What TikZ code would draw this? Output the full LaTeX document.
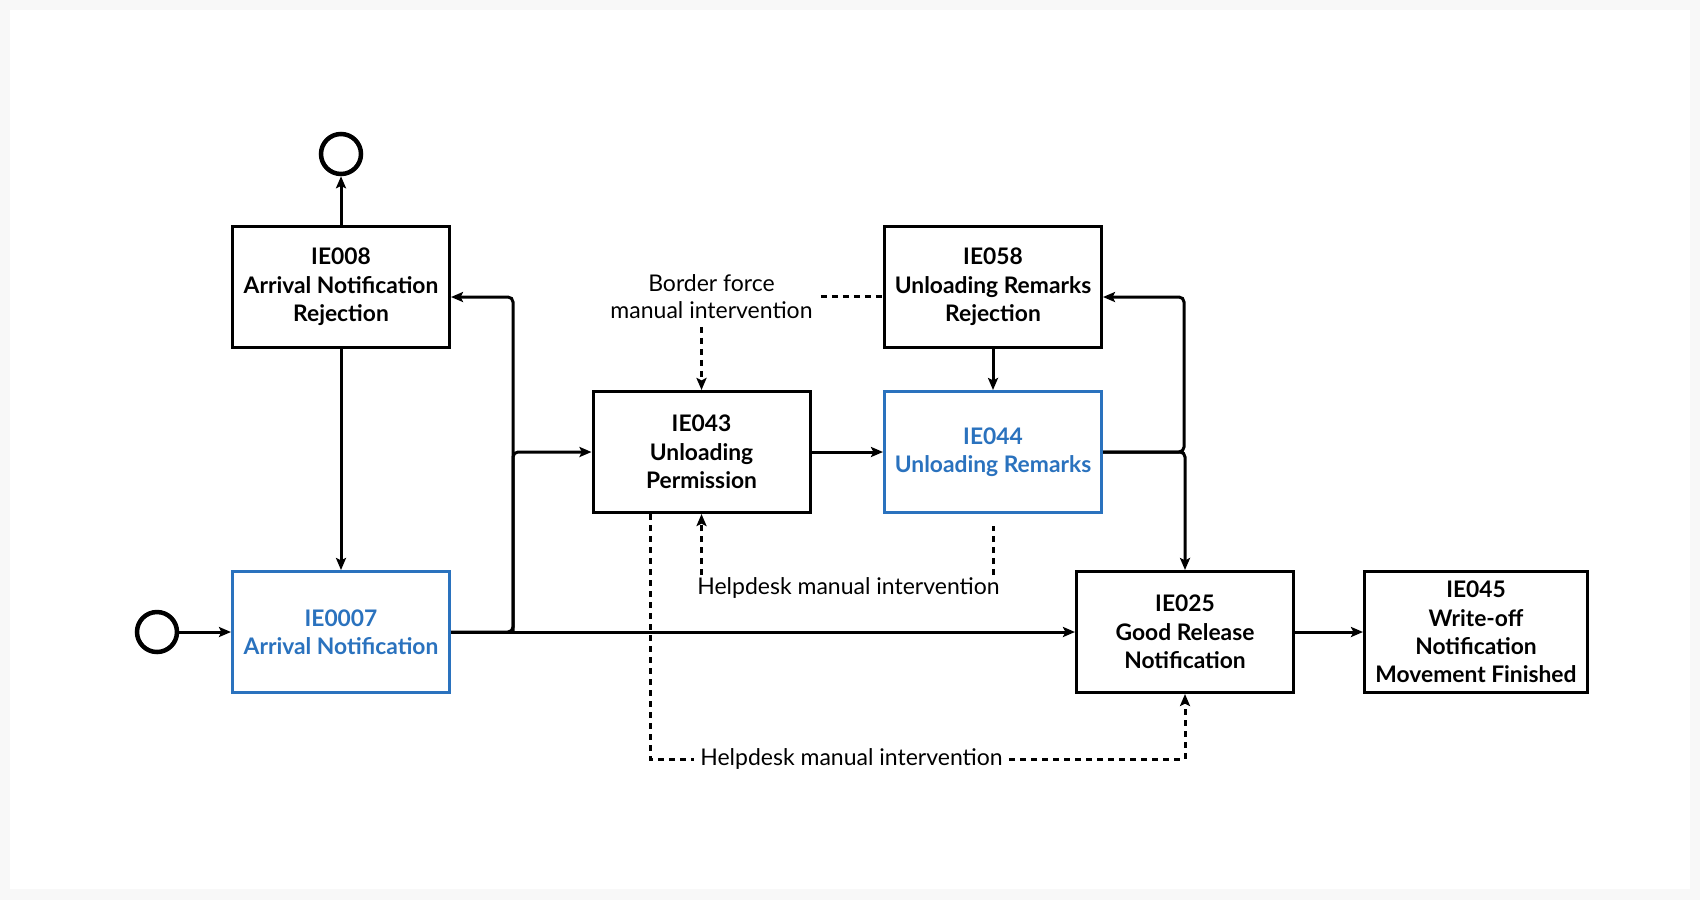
\documentclass[tikz,border=0pt]{standalone}
\usepackage{fontspec}
\setmainfont{Lato}
\usetikzlibrary{arrows.meta,positioning}
\definecolor{msgblue}{HTML}{2A72BE}
\definecolor{pagegray}{HTML}{F8F8F8}
\tikzstyle{every node}+=[inner sep=1pt,font=\fontsize{11.5}{13.5}\selectfont]
\tikzstyle{msg}=[rectangle,draw,line width=1.5pt,minimum width=108.5pt,minimum height=60.5pt,align=center,font=\fontsize{11.4}{14.15}\selectfont\bfseries]
\tikzstyle{ev}=[circle,draw,line width=2.25pt,minimum size=20pt,inner sep=0pt]
\tikzstyle{flow}=[line width=1.5pt,-{Stealth[length=6pt,width=5pt,inset=1.2pt]}]
\tikzstyle{manual}=[line width=1.5pt,dash pattern=on 3pt off 2.5pt]
\tikzstyle{lbl}=[align=center]

\begin{document}
\begin{tikzpicture}[x=0.5pt,y=-0.5pt]

\fill[pagegray] (0,0) rectangle (1700,900);
\fill[white] (10,10) rectangle (1690,889);

% messages
\node[msg] (ie008) at (341,287) {IE008\\Arrival Notification\\Rejection};
\node[msg,msgblue,below of=ie008,node distance=172.5pt] (ie0007) {IE0007\\Arrival Notification};
\node[ev,above of=ie008,node distance=66.5pt] (finish) {};
\node[ev,left of=ie0007,node distance=92pt] (start) {};

\node[msg] (ie043) at (701.5,452) {IE043\\Unloading\\Permission};
\node[msg,msgblue,right of=ie043,node distance=145.75pt] (ie044) {IE044\\Unloading Remarks};
\node[msg,above of=ie044,node distance=82.5pt] (ie058) {IE058\\Unloading Remarks\\Rejection};

\node[msg] (ie025) at (1185,632) {IE025\\Good Release\\Notification};
\node[msg,minimum width=111.5pt,right of=ie025,node distance=145.5pt] (ie045) {IE045\\Write-off\\Notification\\Movement Finished};

% manual interventions
\node[lbl] (border) at (711.5,296.5) {Border force\\manual intervention};
\node (helpmid) at (848.5,588) {Helpdesk manual intervention};
\node[inner sep=3pt] (helplow) at (851.5,759) {Helpdesk manual intervention};

\coordinate (splitL) at (513,632);
\coordinate (splitR) at (1184,452);

\draw[flow] (start) -- (ie0007);
\draw[flow] (ie008) -- (finish);
\draw[flow] (ie008) -- (ie0007);
\draw[flow] (ie0007.east) -- (ie025.west);
\draw[flow,rounded corners=2.5pt] (ie0007.east) -- (splitL) |- ([yshift=-5pt]ie008.east);
\draw[flow,rounded corners=2.5pt] (splitL) |- (ie043.west);
\draw[flow] (ie043) -- (ie044);
\draw[flow] (ie058) -- (ie044);
\draw[flow,rounded corners=2.5pt] (ie044.east) -- (splitR) |- ([yshift=-5pt]ie058.east);
\draw[flow,rounded corners=2.5pt] (ie044.east) -| (ie025.north);
\draw[flow] (ie025) -- (ie045);

\draw[manual] ([xshift=3pt]border.east) -- (border.east -| ie058.west);
\draw[manual,shorten <=3pt,-{Stealth[length=6pt,width=5pt,inset=1.2pt]}] (border.south -| ie043.north) -- (ie043.north);
\draw[manual,-{Stealth[length=6pt,width=5pt,inset=1.2pt]}] (helpmid.north -| ie043.south) -- (ie043.south);
\draw[manual] (helpmid.north -| ie044.south) -- ([yshift=-6pt]ie044.south);
\draw[manual] ([xshift=-25.75pt]ie043.south) |- (helplow.west);
\draw[manual,-{Stealth[length=6pt,width=5pt,inset=1.2pt]}] (helplow.east) -| (ie025.south);

\end{tikzpicture}
\end{document}
